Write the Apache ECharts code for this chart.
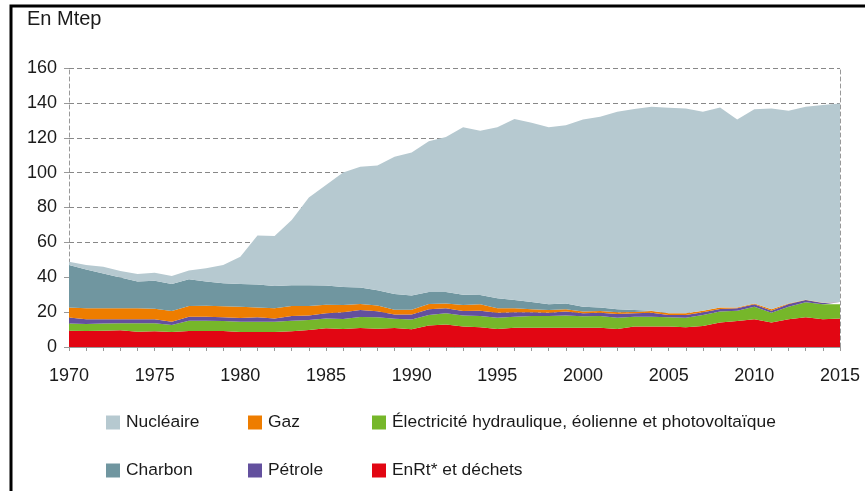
<!DOCTYPE html>
<html>
<head>
<meta charset="utf-8">
<script src="https://cdn.jsdelivr.net/npm/echarts@6/dist/echarts.min.js"></script>
<style>
html,body{margin:0;padding:0;background:#fff;}
#c{width:865px;height:491px;}
</style>
</head>
<body>
<div id="c"></div>
<script>
const years = [];
for (let y = 1970; y <= 2015; y++) years.push(String(y));

const enrt = [9.3,9.2,9.3,9.6,8.8,9.1,8.6,9.2,9.2,9.2,8.6,8.6,8.6,9.0,9.7,10.8,10.3,10.9,10.5,10.9,10.2,12.3,12.9,11.7,11.3,10.3,11.1,11.1,11.1,11.1,11.1,11.1,10.3,11.7,11.7,11.7,11.3,12.0,14.1,14.9,15.9,14.0,15.9,17.0,15.9,16.4];
const hydro = [4.2,4.0,4.2,4.0,4.8,4.5,4.0,5.9,5.9,5.7,5.9,5.9,5.9,6.1,5.8,5.6,5.7,6.3,6.5,5.3,5.5,6.0,6.4,6.3,6.5,6.5,6.3,6.7,6.7,6.9,6.5,6.7,6.5,5.7,5.7,5.3,5.5,6.3,6.2,5.9,7.2,5.7,7.2,8.6,8.6,8.1];
const petrole = [3.4,2.7,2.4,2.3,2.3,2.3,1.9,2.3,2.3,2.1,2.1,2.5,1.9,2.7,2.5,2.9,4.0,4.0,3.5,2.4,2.9,3.3,2.9,2.6,3.0,2.9,2.5,2.1,1.9,2.3,1.7,1.9,2.1,1.9,2.3,1.3,1.5,1.6,1.5,1.4,1.4,1.1,1.6,1.3,0.7,1.1];
const gaz = [5.7,6.3,6.3,6.3,6.3,6.1,6.1,6.1,6.2,6.4,6.5,5.7,5.8,5.7,5.5,4.9,4.1,3.4,3.3,2.8,2.8,3.1,2.8,3.5,3.7,2.5,2.3,1.7,1.5,1.3,1.0,0.9,1.0,0.8,0.9,1.0,1.0,0.9,0.8,0.5,0.5,0.8,0.3,0.2,0.2,0.2];
const charbon = [24.4,22.3,20.0,17.6,15.3,16.0,15.5,15.3,13.9,13.1,13.0,13.2,12.8,11.9,11.9,11.1,10.3,9.5,8.7,9.0,8.2,6.8,6.6,5.9,5.3,5.7,4.7,4.2,3.3,3.4,2.8,2.1,1.8,1.1,0.2,0,0,0,0,0,0,0,0,0,0,0];
const nucleaire = [1.9,2.5,3.8,3.8,4.4,4.6,4.6,5.0,7.6,10.5,15.7,28.1,28.6,37.4,50.4,57.6,65.7,69.3,71.6,78.7,82.0,86.5,88.8,96.0,94.2,98.1,103.8,102.8,101.5,102.1,107.4,109.4,113.2,115.3,117.0,117.9,117.5,114.1,114.8,107.8,111.3,115.2,110.5,110.7,113.4,113.9];

const names = {
  nuc: 'Nucléaire', cha: 'Charbon', gaz: 'Gaz', pet: 'Pétrole',
  hyd: 'Électricité hydraulique, éolienne et photovoltaïque', enr: 'EnRt* et déchets'
};
const colors = {
  nuc: '#b6c9d0', cha: '#7096a0', gaz: '#ee7d00', pet: '#63509e', hyd: '#76b72a', enr: '#e20613'
};

const FONT = 'Liberation Sans, Arial, sans-serif';

function areaSeries(key, data) {
  return {
    name: names[key], type: 'line', stack: 'total', data: data,
    symbol: 'none', smooth: false,
    lineStyle: { width: 0 },
    itemStyle: { color: colors[key] },
    areaStyle: { color: colors[key], opacity: 1 },
    emphasis: { disabled: true }
  };
}

function legendAt(key, left, top) {
  return {
    data: [names[key]], left: left, top: top, icon: 'rect',
    itemWidth: 14, itemHeight: 14, itemGap: 0, padding: 0,
    textStyle: { fontFamily: FONT, fontSize: 17.4, color: '#1a1a1a', padding: [0,0,0,1] }
  };
}

const chart = echarts.init(document.getElementById('c'), null, { renderer: 'canvas' });
chart.setOption({
  animation: false,
  backgroundColor: '#fff',
  grid: { left: 69, right: 25, top: 68, bottom: 144, containLabel: false },
  graphic: [
    { type: 'rect', shape: { x: 11, y: 6, width: 900, height: 600 },
      style: { fill: 'none', stroke: '#000', lineWidth: 3 }, z: 100 },
    { type: 'text', left: 27, top: 9,
      style: { text: 'En Mtep', fontFamily: FONT, fontSize: 20, fill: '#1a1a1a' } }
  ],
  legend: [
    legendAt('nuc', 106, 414),
    legendAt('gaz', 248, 414),
    legendAt('hyd', 372, 414),
    legendAt('cha', 106, 462),
    legendAt('pet', 248, 462),
    legendAt('enr', 372, 462)
  ],
  xAxis: {
    type: 'category', data: years, boundaryGap: false,
    axisLine: { show: true, lineStyle: { color: '#999', width: 1 } },
    axisTick: { show: true, interval: 0, length: 4, lineStyle: { color: '#999' } },
    axisLabel: { interval: 4, margin: 20, fontFamily: FONT, fontSize: 18, color: '#1a1a1a' },
    splitLine: { show: false }
  },
  yAxis: [
    {
      type: 'value', min: 0, max: 160, interval: 20,
      axisLine: { show: true, lineStyle: { color: '#999', type: [4, 3] } },
      axisTick: { show: true, length: 5, lineStyle: { color: '#999' } },
      axisLabel: { margin: 12, fontFamily: FONT, fontSize: 18, color: '#1a1a1a' },
      splitLine: { show: true, lineStyle: { color: '#888', type: [5, 3], width: 1 } }
    },
    {
      type: 'value', min: 0, max: 160, interval: 20, position: 'right', z: 10,
      axisLine: { show: true, lineStyle: { color: '#999', type: [4, 3] } },
      axisTick: { show: false }, axisLabel: { show: false }, splitLine: { show: false }
    }
  ],
  series: [
    areaSeries('enr', enrt),
    areaSeries('hyd', hydro),
    areaSeries('pet', petrole),
    areaSeries('gaz', gaz),
    areaSeries('cha', charbon),
    areaSeries('nuc', nucleaire)
  ]
});
</script>
</body>
</html>
